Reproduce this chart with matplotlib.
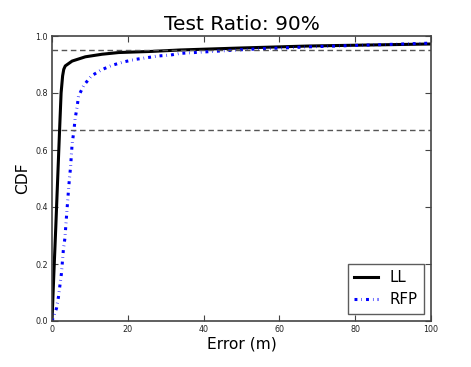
import matplotlib
matplotlib.use("Agg")
import matplotlib.pyplot as plt

ll_x = [0, 0.5, 1.0, 1.5, 2.0, 2.4, 2.8, 3.1, 3.5, 5.3, 8.8, 13.2, 17.6, 26.4, 33.9, 50, 68, 100]
ll_y = [0, 0.17, 0.33, 0.5, 0.67, 0.8, 0.86, 0.883, 0.895, 0.912, 0.927, 0.936, 0.942, 0.946, 0.951, 0.958, 0.965, 0.972]

rfp_x = [0, 1.2, 1.7, 2.1, 2.5, 3.0, 3.4, 3.9, 4.3, 4.6, 4.9, 5.3, 5.8, 6.1, 6.6, 7.0, 8.4, 10.4, 13.0,
         15.8, 18.9, 22.0, 25.1, 28.1, 31.2, 33.8, 51.4, 68, 100]
rfp_y = [0, 0.045, 0.084, 0.126, 0.168, 0.25, 0.29, 0.38, 0.45, 0.5, 0.54, 0.62, 0.67, 0.71, 0.749, 0.789,
         0.827, 0.86, 0.881, 0.897, 0.909, 0.918, 0.924, 0.93, 0.933, 0.939, 0.953, 0.962, 0.975]

hlines = [0.95, 0.67]

plt.rcParams['lines.scale_dashes'] = False

fig = plt.figure(figsize=(4.71, 3.67), dpi=100)
ax = fig.add_axes([52/471, 1-321/367, (431-52)/471, (321-36)/367])
ax.plot(ll_x, ll_y, color='black', lw=2.2, label='LL')
ax.plot(rfp_x, rfp_y, color='blue', lw=2.2, ls=(0, (2.1, 2.9, 0.4, 2.9)),
        dash_capstyle='butt', label='RFP')
for h in hlines:
    ax.axhline(h, color='#555555', ls=(0, (4, 2.6)), lw=1.0)
ax.set_xlim(0, 100)
ax.set_ylim(0, 1.0)
ax.set_xticks([0, 20, 40, 60, 80, 100])
ax.set_yticks([0, 0.2, 0.4, 0.6, 0.8, 1.0])
ax.set_yticklabels(['0.0', '0.2', '0.4', '0.6', '0.8', '1.0'])
ax.tick_params(labelsize=5.8, direction='in', top=True, right=True, length=4,
               color='#444444', labelcolor='#222222', pad=3)
for s in ax.spines.values():
    s.set_color('#444444')
    s.set_linewidth(1.2)
ax.set_xlabel('Error (m)', fontsize=11.2, labelpad=2)
ax.set_ylabel('CDF', fontsize=11.2)
ax.set_title('Test Ratio: 90%', fontsize=14.5, pad=4)
leg = ax.legend(loc='lower right', fontsize=10.8, fancybox=False, handlelength=1.6,
                borderaxespad=0.5)
leg.get_frame().set_edgecolor('#333333')
fig.savefig('out.png', dpi=100)
